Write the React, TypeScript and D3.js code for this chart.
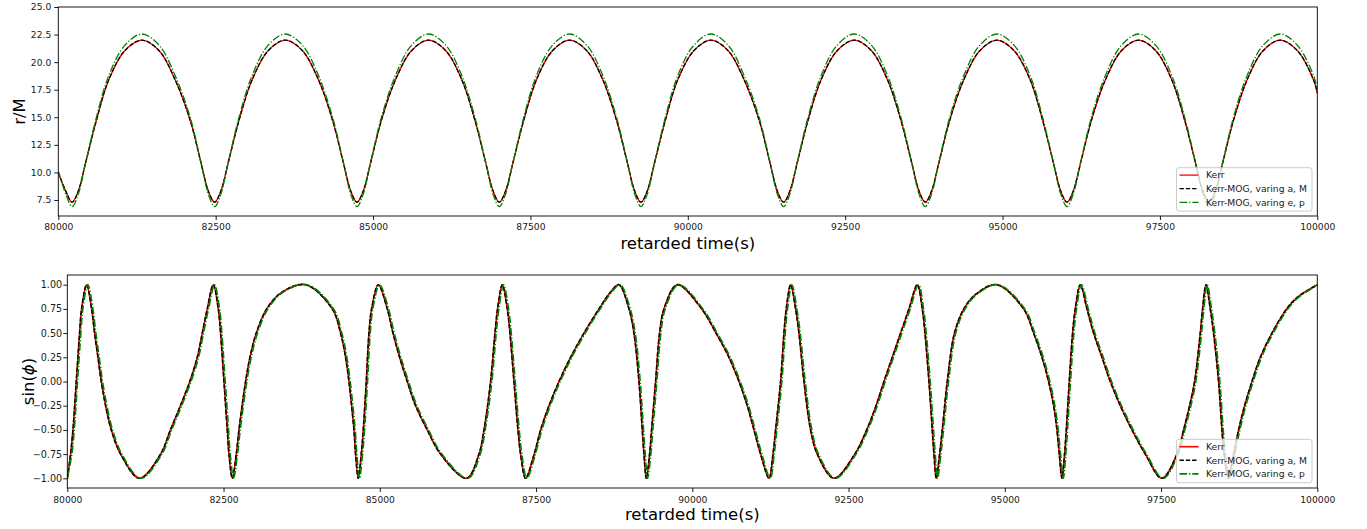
import React, { useEffect, useRef } from 'react'
import * as d3 from 'd3'

const W = 1367
const H = 529

// shared x ticks (retarded time, s)
const timeTicks = [80000, 82500, 85000, 87500, 90000, 92500, 95000, 97500, 100000]
const rTicks = [7.5, 10, 12.5, 15, 17.5, 20, 22.5, 25]
const sinTicks = [-1, -0.75, -0.5, -0.25, 0, 0.25, 0.5, 0.75, 1]
const legendLabels = ['Kerr', 'Kerr-MOG, varing a, M', 'Kerr-MOG, varing e, p']

// top panel: r/M
const tR = [
  80000,
  80120, 80218, 80316, 80438, 80602, 80797, 81052, 81329, 81606, 81861,
  82099, 82263, 82385, 82483, 82581, 82703, 82867, 83074, 83329, 83606, 83883, 84138,
  84361, 84525, 84647, 84745, 84843, 84965, 85129, 85351, 85606, 85883, 86160, 86415,
  86622, 86786, 86908, 87006, 87104, 87226, 87390, 87591, 87846, 88123, 88400, 88655,
  88872, 89036, 89158, 89256, 89354, 89476, 89640, 89836, 90091, 90368, 90645, 90900,
  91138, 91302, 91424, 91522, 91620, 91742, 91906, 92113, 92368, 92645, 92922, 93177,
  93389, 93553, 93675, 93773, 93871, 93993, 94157, 94379, 94634, 94911, 95188, 95443,
  95640, 95804, 95926, 96024, 96122, 96244, 96408, 96629, 96884, 97161, 97438, 97693,
  97897, 98061, 98183, 98281, 98379, 98501, 98665, 98880, 99135, 99412, 99689, 99944,
  100000,
]
const rKerr = [
  10.0,
  8.29, 7.3, 8.29, 10.97, 14.65, 18.33, 21.01, 22.0, 21.01, 18.33,
  14.65, 10.97, 8.29, 7.3, 8.29, 10.97, 14.65, 18.33, 21.01, 22.0, 21.01, 18.33,
  14.65, 10.97, 8.29, 7.3, 8.29, 10.97, 14.65, 18.33, 21.01, 22.0, 21.01, 18.33,
  14.65, 10.97, 8.29, 7.3, 8.29, 10.97, 14.65, 18.33, 21.01, 22.0, 21.01, 18.33,
  14.65, 10.97, 8.29, 7.3, 8.29, 10.97, 14.65, 18.33, 21.01, 22.0, 21.01, 18.33,
  14.65, 10.97, 8.29, 7.3, 8.29, 10.97, 14.65, 18.33, 21.01, 22.0, 21.01, 18.33,
  14.65, 10.97, 8.29, 7.3, 8.29, 10.97, 14.65, 18.33, 21.01, 22.0, 21.01, 18.33,
  14.65, 10.97, 8.29, 7.3, 8.29, 10.97, 14.65, 18.33, 21.01, 22.0, 21.01, 18.33,
  14.65, 10.97, 8.29, 7.3, 8.29, 10.97, 14.65, 18.33, 21.01, 22.0, 21.01, 18.33,
  17.2,
]
// varying a, M sits on top of Kerr in the picture
const rMogA = rKerr
const rMogE = [
  10.1,
  8.01, 6.9, 8.01, 11.0, 14.92, 18.71, 21.5, 22.55, 21.5, 18.71,
  14.92, 11.0, 8.01, 6.9, 8.01, 11.0, 14.92, 18.71, 21.5, 22.55, 21.5, 18.71,
  14.92, 11.0, 8.01, 6.9, 8.01, 11.0, 14.92, 18.71, 21.5, 22.55, 21.5, 18.71,
  14.92, 11.0, 8.01, 6.9, 8.01, 11.0, 14.92, 18.71, 21.5, 22.55, 21.5, 18.71,
  14.92, 11.0, 8.01, 6.9, 8.01, 11.0, 14.92, 18.71, 21.5, 22.55, 21.5, 18.71,
  14.92, 11.0, 8.01, 6.9, 8.01, 11.0, 14.92, 18.71, 21.5, 22.55, 21.5, 18.71,
  14.92, 11.0, 8.01, 6.9, 8.01, 11.0, 14.92, 18.71, 21.5, 22.55, 21.5, 18.71,
  14.92, 11.0, 8.01, 6.9, 8.01, 11.0, 14.92, 18.71, 21.5, 22.55, 21.5, 18.71,
  14.92, 11.0, 8.01, 6.9, 8.01, 11.0, 14.92, 18.71, 21.5, 22.55, 21.5, 18.71,
  17.5,
]

// bottom panel: sin(phi)
const tPhi = [
  80000, 80053, 80091, 80144, 80197, 80229, 80309, 80389, 80437, 80491, 80544, 80613, 80704, 80853, 81157,
  81493, 81650, 81810, 81960, 82080, 82160, 82240, 82336, 82416, 82453, 82507, 82560, 82587, 82640,
  82704, 82747, 82853, 82923, 83024, 83190, 83430, 83813, 84240, 84373, 84453, 84507, 84549, 84587, 84613, 84656,
  84704, 84736, 84784, 84827, 84869, 84976,
  85120, 85211, 85317, 85440, 85573, 85760, 85973, 86389,
  86587, 86667, 86773, 86843, 86885, 86960, 87040, 87083, 87147, 87211, 87253, 87333,
  87470, 87573, 87707, 87867, 88053, 88267, 88507, 88700, 88827,
  88987, 89067, 89147, 89200, 89227, 89264,
  89317, 89349, 89413, 89477, 89547, 89760,
  90150, 90380, 90587, 90747, 90880, 90987, 91093, 91227,
  91291, 91333, 91413, 91467, 91504, 91573,
  91653, 91707, 91787, 91893, 92000, 92267,
  92600, 92790, 92940, 93067, 93200, 93333, 93467, 93600,
  93680, 93723, 93787, 93840, 93867, 93904,
  93957, 94000, 94080, 94195, 94345, 94533, 94870,
  95301, 95461, 95595, 95701, 95781, 95835, 95872, 95915,
  95957, 95984, 96032, 96085, 96128, 96208,
  96315, 96421, 96555, 96688, 96848, 97035, 97248, 97515,
  97755, 97861, 97957, 98037, 98128, 98165, 98219,
  98288, 98341, 98421, 98475, 98510, 98575,
  98661, 98741, 98837, 98955, 99088, 99275, 99510, 99680, 100000,
]
const sinKerr = [
  -1, -0.75, -0.5, 0, 0.5, 0.75, 1, 0.75, 0.5, 0.25, 0, -0.25, -0.5, -0.75, -1,
  -0.75, -0.5, -0.25, 0, 0.25, 0.5, 0.75, 1, 0.75, 0.5, 0, -0.5, -0.75, -1,
  -0.75, -0.5, 0, 0.25, 0.5, 0.75, 0.92, 1, 0.75, 0.5, 0.25, 0, -0.25, -0.5, -0.75, -1,
  -0.75, -0.5, 0, 0.5, 0.75, 1,
  0.75, 0.5, 0.25, 0, -0.25, -0.5, -0.75, -1,
  -0.75, -0.5, 0, 0.5, 0.75, 1, 0.75, 0.5, 0, -0.5, -0.75, -1,
  -0.75, -0.5, -0.25, 0, 0.25, 0.5, 0.75, 0.93, 1,
  0.75, 0.5, 0, -0.5, -0.75, -1,
  -0.75, -0.5, 0, 0.5, 0.75, 1,
  0.75, 0.5, 0.25, 0, -0.25, -0.5, -0.75, -1,
  -0.75, -0.5, 0, 0.5, 0.75, 1,
  0.75, 0.5, 0, -0.5, -0.75, -1,
  -0.75, -0.5, -0.25, 0, 0.25, 0.5, 0.75, 1,
  0.75, 0.5, 0, -0.5, -0.75, -1,
  -0.75, -0.5, 0, 0.5, 0.75, 0.9, 1,
  0.75, 0.5, 0.25, 0, -0.25, -0.5, -0.75, -1,
  -0.75, -0.5, 0, 0.5, 0.75, 1,
  0.75, 0.5, 0.25, 0, -0.25, -0.5, -0.75, -1,
  -0.75, -0.5, -0.25, 0, 0.5, 0.75, 1,
  0.75, 0.5, 0, -0.5, -0.75, -1,
  -0.75, -0.5, -0.25, 0, 0.25, 0.5, 0.75, 0.87, 1,
]
const sinMogA = sinKerr
// the e, p curve lags the others by about a pixel
const tPhiMogE = [
  80000, 80073, 80111, 80164, 80217, 80249, 80329, 80409, 80457, 80511, 80564, 80633, 80724, 80873, 81177,
  81513, 81670, 81830, 81980, 82100, 82180, 82260, 82356, 82436, 82473, 82527, 82580, 82607, 82660,
  82724, 82767, 82873, 82943, 83044, 83210, 83450, 83833, 84260, 84393, 84473, 84527, 84569, 84607, 84633, 84676,
  84724, 84756, 84804, 84847, 84889, 84996,
  85140, 85231, 85337, 85460, 85593, 85780, 85993, 86409,
  86607, 86687, 86793, 86863, 86905, 86980, 87060, 87103, 87167, 87231, 87273, 87353,
  87490, 87593, 87727, 87887, 88073, 88287, 88527, 88720, 88847,
  89007, 89087, 89167, 89220, 89247, 89284,
  89337, 89369, 89433, 89497, 89567, 89780,
  90170, 90400, 90607, 90767, 90900, 91007, 91113, 91247,
  91311, 91353, 91433, 91487, 91524, 91593,
  91673, 91727, 91807, 91913, 92020, 92287,
  92620, 92810, 92960, 93087, 93220, 93353, 93487, 93620,
  93700, 93743, 93807, 93860, 93887, 93924,
  93977, 94020, 94100, 94215, 94365, 94553, 94890,
  95321, 95481, 95615, 95721, 95801, 95855, 95892, 95935,
  95977, 96004, 96052, 96105, 96148, 96228,
  96335, 96441, 96575, 96708, 96868, 97055, 97268, 97535,
  97775, 97881, 97977, 98057, 98148, 98185, 98239,
  98308, 98361, 98441, 98495, 98530, 98595,
  98681, 98761, 98857, 98975, 99108, 99295, 99530, 99700, 100020,
]
const sinMogE = sinKerr

const FONT = 'DejaVu Sans, Liberation Sans, sans-serif'

function Axis({ scale, orient, transform, ticks, format, size, pad, fontSize }) {
  const ref = useRef(null)
  useEffect(() => {
    const ax = (orient === 'bottom' ? d3.axisBottom(scale) : d3.axisLeft(scale))
      .tickValues(ticks)
      .tickFormat(format)
      .tickSize(size)
      .tickPadding(pad)
      .tickSizeOuter(0)
    const g = d3.select(ref.current).call(ax)
    g.select('.domain').remove()
    g.selectAll('line').attr('stroke', '#000').attr('stroke-width', 0.9)
    g.selectAll('text')
      .attr('font-size', fontSize)
      .attr('font-family', FONT)
      .attr('fill', '#1a1a1a')
  })
  return <g ref={ref} transform={transform} />
}

function Legend({ x, y, lw, styles }) {
  return (
    <g>
      <rect x={x} y={y} width={135.5} height={43.4} rx={2.5}
        fill="#fff" fillOpacity={0.8} stroke="#cccccc" strokeWidth={1} />
      {legendLabels.map((lab, i) => {
        const cy = y + 7.4 + i * 13.6
        return (
          <g key={lab}>
            <line x1={x + 3} x2={x + 22} y1={cy} y2={cy}
              stroke={styles[i].color} strokeWidth={lw} strokeDasharray={styles[i].dash} />
            <text x={x + 29.5} y={cy + 3.3} fontSize={9.2} fontFamily={FONT} fill="#1a1a1a">{lab}</text>
          </g>
        )
      })}
    </g>
  )
}

const lineStyles = [
  { color: '#ff0000', dash: null },
  { color: '#000000', dash: '4.4 1.9' },
  { color: '#008000', dash: '7.7 1.9 1.3 1.9' },
]

function Panel({ id, box, yDomain, yTicks, yFmt, yLabel, series, lw, yPad, yFont, legendY, xLabelY, xPad }) {
  const x = d3.scaleLinear().domain([80000, 100000]).range([box.left, box.right])
  const y = d3.scaleLinear().domain(yDomain).range([box.bottom, box.top])
  const gen = (ts) => d3.line().x((d, i) => x(ts[i])).y((d) => y(d)).curve(d3.curveCatmullRom.alpha(0.5))
  const cx = (box.left + box.right) / 2
  const cy = (box.top + box.bottom) / 2
  return (
    <g>
      <defs>
        <clipPath id={id}>
          <rect x={box.left} y={box.top} width={box.right - box.left} height={box.bottom - box.top} />
        </clipPath>
      </defs>
      <g clipPath={`url(#${id})`}>
        {series.map((s, i) => (
          <path key={i} d={gen(s.t)(s.v)} fill="none" stroke={lineStyles[i].color}
            strokeWidth={lw} strokeDasharray={lineStyles[i].dash} strokeLinejoin="round" />
        ))}
      </g>
      <rect x={box.left} y={box.top} width={box.right - box.left} height={box.bottom - box.top}
        fill="none" stroke="#000" strokeWidth={0.9} />
      <Axis scale={x} orient="bottom" transform={`translate(0,${box.bottom})`} ticks={timeTicks}
        format={d3.format('d')} size={4} pad={xPad} fontSize={9.2} />
      <Axis scale={y} orient="left" transform={`translate(${box.left},0)`} ticks={yTicks}
        format={d3.format(yFmt)} size={4} pad={yPad} fontSize={yFont} />
      <text x={cx} y={xLabelY} textAnchor="middle" fontSize={16.5} fontFamily={FONT} fill="#000">
        retarded time(s)
      </text>
      <text transform={`translate(${box.left - 33.5},${cy}) rotate(-90)`} textAnchor="middle"
        fontSize={16.5} fontFamily={FONT} fill="#000">
        {yLabel}
      </text>
      <Legend x={1176.5} y={legendY} lw={lw} styles={lineStyles} />
    </g>
  )
}

export default function App() {
  return (
    <div style={{ position: 'absolute', left: 0, top: 0, background: '#fff' }}>
      <svg width={W} height={H} style={{ display: 'block' }}>
        <rect width={W} height={H} fill="#fff" />
        <Panel id="clipTop"
          box={{ left: 58.3, right: 1317.3, top: 7, bottom: 216 }}
          yDomain={[6.05, 25]} yTicks={rTicks} yFmt=".1f" yLabel="r/M"
          series={[{ t: tR, v: rKerr }, { t: tR, v: rMogA }, { t: tR, v: rMogE }]}
          lw={1.3} yPad={3} yFont={9.2} legendY={167.7} xLabelY={248.5} xPad={3.2} />
        <Panel id="clipBottom"
          box={{ left: 67.3, right: 1317.3, top: 275, bottom: 488 }}
          yDomain={[-1.1, 1.1]} yTicks={sinTicks} yFmt=".2f"
          yLabel={<>sin(<tspan fontStyle="italic">ϕ</tspan>)</>}
          series={[{ t: tPhi, v: sinKerr }, { t: tPhi, v: sinMogA }, { t: tPhiMogE, v: sinMogE }]}
          lw={1.6} yPad={1.2} yFont={9.6} legendY={439.3} xLabelY={519.5} xPad={4.8} />
      </svg>
    </div>
  )
}
